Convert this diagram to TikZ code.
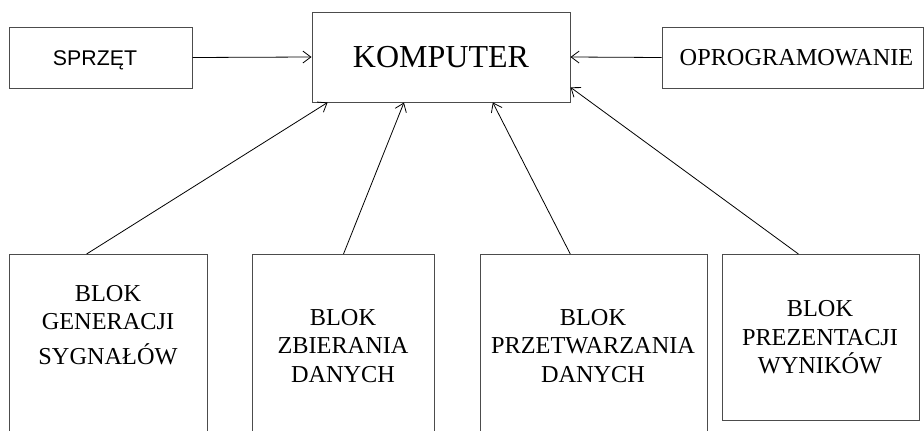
\documentclass[tikz,border=0pt]{standalone}
\usepackage{fontspec}
\setmainfont{Liberation Serif}
\newfontfamily\arialfont{Liberation Sans}
\usetikzlibrary{arrows.meta,calc}
\begin{document}
\begin{tikzpicture}[x=1pt,y=-1pt,
  box/.style={draw=black!70, line width=1pt, inner sep=0pt},
  conn/.style={draw=black, line width=0.8pt, -{Straight Barb[length=8pt,width=12pt,line width=0.8pt]}},
  blocktext/.style={font=\fontsize{24.3}{28.5}\selectfont, align=center, inner sep=0pt}]
\useasboundingbox (0,0) rectangle (924,431);
\clip (0,0) rectangle (924,431);
% top row
\node[box, minimum width=183pt, minimum height=61pt, font=\arialfont\fontsize{21.3}{25}\selectfont, text height=15pt, text depth=0pt] (hw) at (100.5,57.5) {\hspace*{-11pt}SPRZĘT};
\node[box, minimum width=258pt, minimum height=90pt, font=\fontsize{32}{36}\selectfont, text height=21pt, text depth=0pt] (kom) at (441,57) {KOMPUTER};
\node[box, minimum width=261pt, minimum height=61pt, font=\fontsize{24.3}{28}\selectfont, text height=16pt, text depth=0pt] (sw) at (792.5,57.5) {\hspace*{8pt}OPROGRAMOWANIE};
% bottom boxes
\node[box, anchor=north west, minimum width=198pt, minimum height=200pt] (b1) at (9,254) {};
\node[box, anchor=north west, minimum width=182pt, minimum height=200pt] (b2) at (252,254) {};
\node[box, anchor=north west, minimum width=227pt, minimum height=200pt] (b3) at (480,254) {};
\node[box, anchor=north west, minimum width=197pt, minimum height=166pt] (b4) at (722,254) {};
% texts
\node[blocktext] (t1) at (108,325) {BLOK\\GENERACJI\\[6pt]SYGNAŁÓW};
\node[blocktext] (t2) at (343,346) {BLOK\\ZBIERANIA\\DANYCH};
\node[blocktext] (t3) at (593,346) {BLOK\\PRZETWARZANIA\\DANYCH};
\node[blocktext] (t4) at (820,337.5) {BLOK\\PREZENTACJI\\WYNIKÓW};
% connectors
\draw[conn] (hw.east) -- (kom.west);
\draw[conn] (sw.west) -- (kom.east);
\draw[conn] ($(b1.north west)!0.39!(b1.north east)$) -- ($(kom.south west)!0.062!(kom.south east)$);
\draw[conn] (b2.north) -- ($(kom.south west)!0.357!(kom.south east)$);
\draw[conn] ($(b3.north west)!0.396!(b3.north east)$) -- ($(kom.south west)!0.70!(kom.south east)$);
\draw[conn] ($(b4.north west)!0.386!(b4.north east)$) -- ($(kom.south east)!0.167!(kom.north east)$);
\end{tikzpicture}
\end{document}
